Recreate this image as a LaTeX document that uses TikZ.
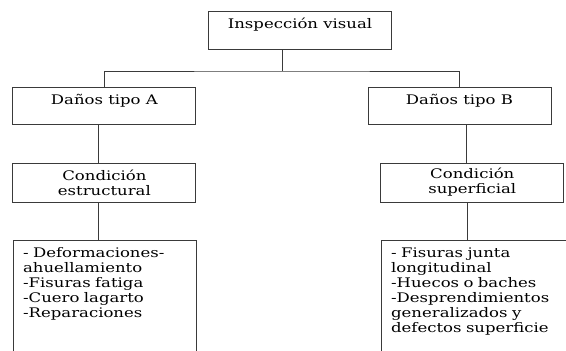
\documentclass[tikz,border=0pt]{standalone}
\usepackage{fontspec}
\setmainfont[FakeStretch=1.25]{DejaVu Serif}
\usepackage{tikz}
\usetikzlibrary{positioning}
\definecolor{lineGray}{HTML}{3A3A3A}
\tikzstyle{link}=[draw=lineGray, line width=0.9pt]
\tikzstyle{box_gen}=[rectangle, draw=lineGray, line width=0.9pt, inner sep=0pt, minimum width=183pt, font=\fontsize{13.2}{15}\selectfont]
\tikzstyle{one_line}=[box_gen, text height=17pt, text depth=20pt]
\tikzstyle{two_line}=[box_gen, align=center, minimum height=39pt]
\tikzstyle{list_box}=[box_gen, anchor=north west, align=left, inner xsep=10pt, text height=17.5pt, text depth=100pt]

\begin{document}
\begin{tikzpicture}[x=1pt, y=-1pt]
        \clip (0, 0) rectangle (566, 351);
        \node [style=one_line, text depth=21pt] (Inspeccion) at (300, 30) {Inspección visual};
        \coordinate (Split) at (282, 71);

        % Tipo A
        \node [style=one_line] (DanosA) at (104.4, 105.5) {Daños tipo A};
        \node [style=two_line] (CondA) at (104.4, 182.5) {Condición\\estructural};
        \node [style=list_box, text width=163pt] (ListaA) at (12.7, 239.5) {- Deformaciones-\\ahuellamiento\\-Fisuras fatiga\\-Cuero lagarto\\-Reparaciones};

        % Tipo B
        \node [style=one_line] (DanosB) at (459.5, 105.5) {Daños tipo B};
        \node [style=two_line] (CondB) at (472.3, 182.5) {Condición\\superficial};
        \node [style=list_box, text width=200pt] (ListaB) at (380.7, 239.5) {- Fisuras junta\\longitudinal\\-Huecos o baches\\-Desprendimientos\\generalizados y\\defectos superficie};

        %Tree
        \draw [style=link] (Inspeccion.south -| Split) -- (Split);
        \draw [style=link] (DanosA.north) |- (Split) -| (DanosB.north);
        \draw [style=link] ([xshift=-6pt]DanosA.south) -- ([xshift=-6pt]CondA.north);
        \draw [style=link] ([xshift=-6pt]CondA.south) -- ([xshift=-6pt]CondA.south |- ListaA.north);
        \draw [style=link] ([xshift=7pt]DanosB.south) -- ([xshift=7pt]DanosB.south |- CondB.north);
        \draw [style=link] ([xshift=-5pt]CondB.south) -- ([xshift=-5pt]CondB.south |- ListaB.north);
    \end{tikzpicture}
\end{document}
